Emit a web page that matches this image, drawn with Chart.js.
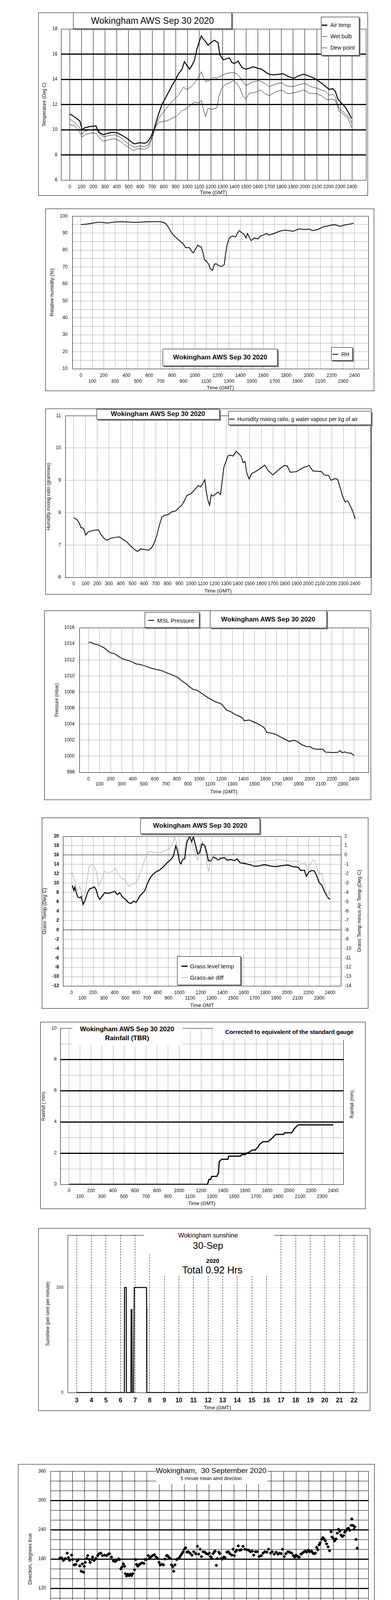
<!DOCTYPE html>
<html>
<head>
<meta charset="utf-8">
<title>Wokingham AWS Sep 30 2020</title>
<script src="https://cdn.jsdelivr.net/npm/chart.js@4.4.1/dist/chart.umd.min.js"></script>
<style>
  body { margin: 0; width: 1000px; height: 5000px; position: relative; background: #fff;
         font-family: "Liberation Sans", Arial, Helvetica, sans-serif; color: #000; }
  .frame { position: absolute; outline: 1px solid #000; outline-offset: -1px; }
  .frame canvas { display: block; }
  .box { position: absolute; background: #fff; border: 1px solid #000; box-sizing: border-box; overflow: hidden; z-index: 2; }
  .shadow { box-shadow: 3px 3px 0 #808080; }
  .mask { position: absolute; background: #fff; z-index: 2; }
  .txt { position: absolute; white-space: pre; transform: translate(-50%, -50%); z-index: 3; line-height: 1; }
  .ltxt { position: absolute; white-space: pre; transform: translateY(-50%); z-index: 3; line-height: 1; }
  .vtxt { position: absolute; white-space: pre; transform: translate(-50%, -50%) rotate(-90deg); z-index: 3; line-height: 1; }
  .sw { position: absolute; z-index: 3; }
</style>
</head>
<body>
<script>
// ---- tick values ----
const hundredTicks = [0,100,200,300,400,500,600,700,800,900,1000,1100,1200,1300,1400,1500,1600,1700,1800,1900,2000,2100,2200,2300,2400];
const tempTicks = [6,8,10,12,14,16,18];
const rhTicks = [10,15,20,25,30,35,40,45,50,55,60,65,70,75,80,85,90,95,100];
const mrTicks = [6,7,8,9,10,11];
const presTicks = [998,1000,1002,1004,1006,1008,1010,1012,1014,1016];
const grassTicks = [-12,-10,-8,-6,-4,-2,0,2,4,6,8,10,12,14,16,18,20];
const diffTicks = [-14,-13,-12,-11,-10,-9,-8,-7,-6,-5,-4,-3,-2,-1,0,1,2];
const rainTicks = [0,1,2,3,4,5,6,7,8,9,10];
const sunHours = [3,4,5,6,7,8,9,10,11,12,13,14,15,16,17,18,19,20,21,22];
const sunTicks = [0,50,100,150];
const dirHours = [0,1,2,3,4,5,6,7,8,9,10,11,12,13,14,15,16,17,18,19,20,21,22,23,24];
const dirTicks = [0,10,20,30,40,50,60,70,80,90,100,110,120,130,140,150,160,170,180,190,200,210,220,230,240,250,260,270,280,290,300,310,320,330,340,350,360];
const speedHours = [0,1,2,3,4,5,6,7,8,9,10,11,12,13,14,15,16,17,18,19,20,21,22,23,24,25];
const speedHourLabels = ['00:00','01:00','02:00','03:00','04:00','05:00','06:00','07:00','08:00','09:00','10:00','11:00','12:00','13:00','14:00','15:00','16:00','17:00','18:00','19:00','20:00','21:00','22:00','23:00'];
const speedTicks = [0,5,10,15,20,25,30,35,40,45,50];

// ---- series: [time (hhmm GMT), value] ----
const airTemp = [[0,11.25],[42,11.0],[85,10.7],[106,10.0],[127,10.15],[170,10.25],[223,10.3],[233,10.05],[254,9.75],[286,9.6],[318,9.7],[360,9.8],[403,9.75],[445,9.55],[488,9.3],[530,8.97],[551,8.87],[594,8.97],[636,8.92],[657,9.0],[689,9.4],[720,10.15],[753,11.2],[784,12.0],[827,12.75],[869,13.5],[901,14.0],[922,14.4],[954,14.8],[975,15.4],[996,15.1],[1018,14.8],[1039,15.1],[1060,15.5],[1081,16.4],[1102,17.0],[1119,17.45],[1134,17.2],[1155,17.0],[1176,16.7],[1198,16.9],[1230,17.1],[1261,16.9],[1276,15.95],[1304,15.55],[1325,15.6],[1357,15.7],[1378,15.35],[1399,15.25],[1431,15.45],[1463,14.95],[1495,14.8],[1526,14.87],[1558,15.0],[1590,14.9],[1632,14.8],[1675,14.5],[1707,14.37],[1738,14.35],[1781,14.4],[1813,14.45],[1844,14.3],[1876,14.15],[1908,14.1],[1950,14.3],[1992,14.4],[2035,14.25],[2078,14.1],[2109,13.9],[2141,13.7],[2173,13.45],[2205,13.2],[2237,13.25],[2258,13.05],[2279,12.45],[2311,12.1],[2343,11.8],[2374,11.3],[2396,10.9]];
const wetBulb = [[0,10.85],[42,10.57],[85,10.15],[106,9.65],[127,9.9],[191,10.0],[223,10.05],[254,9.65],[286,9.43],[339,9.55],[382,9.6],[424,9.43],[466,9.1],[509,8.8],[551,8.6],[594,8.7],[636,8.66],[668,8.8],[700,9.43],[731,10.26],[763,11.0],[806,11.5],[848,12.0],[890,12.43],[933,12.85],[965,13.37],[996,13.2],[1028,13.37],[1060,13.7],[1092,14.1],[1119,14.6],[1134,14.2],[1155,13.83],[1187,13.9],[1219,14.15],[1251,14.1],[1283,14.25],[1325,14.45],[1378,14.55],[1420,14.45],[1452,14.1],[1484,13.62],[1505,13.52],[1548,13.78],[1611,13.9],[1654,13.7],[1696,13.42],[1749,13.62],[1802,13.73],[1844,13.47],[1897,13.42],[1950,13.57],[2003,13.67],[2046,13.42],[2099,13.3],[2141,13.15],[2173,13.05],[2205,12.75],[2237,12.8],[2258,12.6],[2290,11.7],[2322,11.45],[2353,11.2],[2385,10.8],[2400,10.5]];
const dewPoint = [[0,10.4],[42,10.3],[74,9.95],[106,9.43],[138,9.64],[191,9.75],[223,9.7],[254,9.33],[286,9.07],[339,9.23],[382,9.28],[424,9.12],[466,8.8],[509,8.55],[541,8.35],[583,8.5],[636,8.45],[668,8.6],[700,9.33],[731,10.26],[763,10.6],[827,10.7],[869,10.9],[912,11.1],[954,11.5],[986,11.65],[1018,11.9],[1060,12.18],[1102,12.12],[1119,12.33],[1134,11.7],[1155,11.05],[1176,11.7],[1208,11.6],[1251,11.75],[1268,12.65],[1293,13.3],[1325,13.6],[1357,13.7],[1389,13.9],[1420,13.7],[1446,13.3],[1473,12.65],[1495,12.43],[1526,12.9],[1569,12.95],[1622,13.15],[1654,12.9],[1696,12.7],[1749,13.0],[1802,13.15],[1855,12.85],[1908,12.93],[1992,13.15],[2035,12.9],[2099,12.85],[2141,12.7],[2184,12.38],[2226,12.43],[2258,12.33],[2290,11.5],[2332,11.2],[2364,10.93],[2396,10.2]];
const relHumidity = [[0,95.0],[55,95.3],[98,95.8],[142,96.3],[186,96.3],[230,95.9],[295,96.5],[361,96.7],[427,96.5],[492,96.3],[558,96.6],[624,96.7],[689,96.7],[722,96.3],[744,95.6],[766,93.6],[799,89.8],[831,87.5],[864,85.6],[897,83.7],[919,81.4],[952,81.4],[974,79.1],[985,78.3],[1006,80.6],[1024,82.9],[1039,82.2],[1055,81.8],[1072,78.3],[1083,74.5],[1105,73.0],[1122,71.5],[1133,69.2],[1155,68.0],[1171,71.8],[1192,71.8],[1210,70.7],[1236,70.3],[1258,71.5],[1269,77.6],[1284,83.7],[1302,87.1],[1328,88.3],[1357,87.7],[1372,89.8],[1389,91.4],[1411,90.2],[1433,89.1],[1448,87.1],[1462,89.8],[1477,87.5],[1494,85.6],[1521,87.1],[1553,86.5],[1575,88.3],[1608,89.1],[1630,89.8],[1648,88.8],[1696,89.8],[1739,91.0],[1783,91.7],[1827,91.4],[1860,91.0],[1915,92.5],[1958,92.1],[2002,92.3],[2035,91.4],[2079,92.1],[2122,93.6],[2177,94.4],[2221,95.0],[2254,94.4],[2276,94.0],[2319,94.8],[2363,95.3],[2391,95.8]];
const mixRatio = [[0,7.84],[28,7.78],[49,7.66],[60,7.54],[81,7.52],[102,7.31],[123,7.41],[145,7.43],[177,7.46],[209,7.47],[230,7.33],[262,7.19],[283,7.15],[315,7.21],[358,7.24],[389,7.25],[421,7.17],[453,7.09],[485,6.97],[517,6.86],[543,6.80],[570,6.88],[602,6.86],[638,6.84],[666,6.93],[687,7.07],[709,7.31],[730,7.62],[751,7.86],[772,7.92],[804,7.94],[836,8.03],[868,8.05],[900,8.17],[921,8.23],[943,8.37],[964,8.53],[996,8.58],[1028,8.70],[1060,8.84],[1081,8.80],[1096,8.88],[1117,9.02],[1130,8.64],[1145,8.37],[1158,8.23],[1172,8.56],[1187,8.51],[1209,8.58],[1230,8.64],[1251,8.56],[1262,8.88],[1279,9.39],[1294,9.55],[1315,9.76],[1336,9.78],[1358,9.75],[1385,9.90],[1407,9.82],[1428,9.74],[1443,9.55],[1460,9.59],[1475,9.23],[1496,9.04],[1517,9.21],[1549,9.27],[1592,9.37],[1628,9.47],[1656,9.31],[1698,9.17],[1741,9.31],[1794,9.46],[1819,9.45],[1847,9.25],[1900,9.27],[1954,9.39],[2007,9.46],[2039,9.29],[2081,9.28],[2113,9.27],[2134,9.17],[2173,9.15],[2194,9.0],[2230,9.06],[2251,9.02],[2273,8.76],[2294,8.49],[2315,8.33],[2336,8.37],[2358,8.21],[2379,8.05],[2400,7.80]];
const mslPressure = [[0,1014.17],[23,1014.17],[45,1014.0],[79,1013.9],[113,1013.7],[146,1013.45],[169,1013.17],[196,1012.88],[237,1012.76],[270,1012.44],[304,1012.15],[338,1011.99],[372,1011.87],[406,1011.66],[428,1011.5],[462,1011.44],[496,1011.3],[530,1011.14],[563,1010.98],[608,1010.82],[654,1010.69],[687,1010.5],[732,1010.25],[777,1010.0],[811,1009.77],[845,1009.36],[879,1009.07],[913,1008.63],[946,1008.31],[980,1008.23],[1014,1007.9],[1048,1007.58],[1082,1007.26],[1115,1007.02],[1149,1006.77],[1183,1006.61],[1206,1006.45],[1228,1006.05],[1251,1005.72],[1284,1005.56],[1318,1005.24],[1352,1005.03],[1386,1004.83],[1408,1004.43],[1453,1004.51],[1487,1004.3],[1521,1004.1],[1555,1003.86],[1589,1003.54],[1611,1002.97],[1645,1002.89],[1690,1002.73],[1724,1002.48],[1769,1002.16],[1814,1001.84],[1859,1002.0],[1893,1001.76],[1927,1001.43],[1972,1001.19],[2006,1001.19],[2028,1000.95],[2062,1000.87],[2118,1000.87],[2141,1000.51],[2175,1000.49],[2208,1000.46],[2254,1000.49],[2276,1000.7],[2292,1000.43],[2314,1000.54],[2344,1000.41],[2373,1000.38],[2400,1000.09]];
const grassTemp = [[7,9.5],[21,8.4],[30,9.15],[42,8.1],[58,7.0],[76,6.85],[88,7.1],[100,6.15],[107,5.45],[123,6.15],[134,7.0],[151,8.1],[169,8.8],[192,8.95],[211,9.2],[227,8.65],[246,7.1],[262,6.5],[285,7.25],[308,7.95],[336,7.8],[366,7.95],[401,8.25],[424,7.55],[447,7.95],[475,7.0],[505,6.4],[528,5.85],[551,5.6],[575,6.15],[598,5.85],[614,6.4],[633,7.25],[656,7.8],[679,8.35],[702,9.75],[725,10.9],[748,11.7],[783,12.4],[818,12.8],[853,13.5],[887,14.35],[922,15.05],[945,15.75],[968,17.95],[985,16.7],[1003,14.5],[1015,14.1],[1031,15.05],[1050,15.2],[1061,17.25],[1073,18.95],[1087,19.5],[1100,19.9],[1114,18.8],[1131,19.9],[1154,17.8],[1170,16.3],[1189,16.45],[1212,18.4],[1235,18.1],[1253,16.7],[1270,14.75],[1293,14.75],[1316,15.6],[1339,15.3],[1362,14.9],[1385,15.3],[1420,15.45],[1443,14.9],[1478,15.05],[1513,14.8],[1536,15.2],[1564,14.35],[1606,14.2],[1652,13.95],[1698,13.6],[1745,13.7],[1791,13.95],[1837,13.7],[1895,13.5],[1941,13.7],[2011,13.85],[2057,13.5],[2104,13.4],[2127,12.7],[2162,12.75],[2180,11.45],[2203,12.4],[2231,12.7],[2254,12.6],[2277,11.45],[2300,10.05],[2323,9.6],[2347,8.25],[2370,7.25],[2388,6.7],[2400,6.55]];
const grassAirDiff = [[2,-1.8],[19,-2.42],[35,-2.98],[53,-3.82],[76,-3.33],[100,-4.5],[123,-4.1],[146,-2.42],[164,-1.17],[188,-1.03],[211,-1.24],[234,-1.87],[250,-3.33],[273,-2.77],[304,-1.73],[343,-2.0],[378,-1.73],[405,-1.45],[435,-2.0],[465,-2.56],[494,-2.56],[528,-3.33],[563,-3.12],[598,-2.98],[621,-2.42],[656,-1.31],[679,-0.48],[714,0.36],[748,0.36],[783,0.22],[830,0.29],[876,0.5],[910,0.7],[938,1.2],[957,1.95],[980,1.05],[1008,-0.06],[1031,-0.48],[1054,0.9],[1073,1.95],[1096,1.95],[1119,1.2],[1142,0.36],[1170,-0.6],[1193,1.05],[1216,1.47],[1239,0.63],[1258,-0.9],[1270,-1.73],[1288,-0.82],[1309,-0.27],[1332,0.01],[1362,-0.55],[1385,-0.06],[1416,0.15],[1443,-0.2],[1478,0.01],[1513,0.22],[1541,-0.34],[1564,-0.6],[1606,-0.82],[1652,-0.75],[1698,-0.69],[1768,-0.59],[1814,-0.62],[1872,-0.55],[1930,-0.48],[2000,-0.59],[2046,-0.69],[2081,-0.62],[2115,-0.75],[2139,-0.96],[2169,-0.75],[2192,-1.59],[2215,-1.03],[2238,-0.55],[2254,-0.55],[2277,-1.31],[2300,-2.15],[2323,-1.94],[2342,-2.98],[2358,-3.54],[2374,-4.5],[2393,-3.82],[2400,-4.37]];
const rainfall = [[0,0],[1259,0],[1270,0.31],[1286,0.31],[1297,0.51],[1343,0.51],[1358,0.73],[1365,1.47],[1376,1.53],[1388,1.61],[1444,1.61],[1451,1.81],[1558,1.81],[1569,1.91],[1603,1.91],[1614,2.0],[1644,2.09],[1666,2.2],[1693,2.2],[1705,2.32],[1716,2.36],[1727,2.52],[1743,2.62],[1761,2.73],[1811,2.73],[1822,2.83],[1840,2.92],[1858,3.05],[1879,3.2],[1949,3.2],[1958,3.3],[2022,3.3],[2033,3.4],[2044,3.54],[2060,3.66],[2072,3.75],[2085,3.81],[2400,3.81]];
// [hour, per cent]
const sunshine = [[3,0],[6.26,0],[6.27,100],[6.39,100],[6.40,0],[6.71,0],[6.73,79],[6.78,79],[6.80,0],[6.89,0],[6.94,100],[7.78,100],[7.79,80],[7.80,0],[22,0]];
// [hour, degrees]
const windDir = [[0,182],[0.14,182],[0.28,177],[0.42,181],[0.58,192],[0.68,183],[0.78,177],[0.94,188],[1.02,179],[1.14,168],[1.28,169],[1.38,176],[1.49,179],[1.59,166],[1.71,155],[1.79,170],[1.89,153],[1.95,165],[2.03,173],[2.15,181],[2.23,187],[2.35,179],[2.43,173],[2.55,179],[2.63,184],[2.75,177],[2.89,181],[3.03,187],[3.15,191],[3.29,192],[3.43,187],[3.59,188],[3.75,187],[3.89,190],[3.99,191],[4.15,184],[4.29,176],[4.43,175],[4.56,177],[4.7,180],[4.8,179],[4.9,160],[5.0,164],[5.1,170],[5.2,165],[5.26,150],[5.36,145],[5.46,149],[5.56,146],[5.66,149],[5.76,146],[5.86,150],[6.0,158],[6.1,179],[6.16,169],[6.26,165],[6.36,168],[6.46,170],[6.6,172],[6.76,171],[6.84,179],[6.96,179],[7.1,187],[7.2,181],[7.3,184],[7.45,187],[7.6,189],[7.73,184],[7.85,181],[7.97,173],[8.07,168],[8.21,169],[8.33,168],[8.45,180],[8.57,187],[8.65,187],[8.77,183],[8.87,181],[8.97,168],[9.07,164],[9.15,155],[9.25,168],[9.37,179],[9.47,180],[9.61,183],[9.71,187],[9.81,191],[9.91,195],[10.01,200],[10.11,203],[10.21,194],[10.32,195],[10.46,192],[10.62,188],[10.76,195],[10.92,191],[11.06,206],[11.16,190],[11.28,200],[11.38,185],[11.52,195],[11.66,194],[11.78,191],[11.92,190],[12.02,192],[12.12,185],[12.22,181],[12.32,191],[12.42,195],[12.48,196],[12.58,167],[12.66,181],[12.78,194],[12.86,191],[12.96,181],[13.08,180],[13.18,184],[13.28,183],[13.43,194],[13.55,195],[13.67,191],[13.83,188],[13.93,200],[14.03,187],[14.13,195],[14.23,198],[14.35,207],[14.47,198],[14.59,199],[14.73,206],[14.87,200],[15.03,199],[15.19,198],[15.33,195],[15.47,196],[15.59,188],[15.73,195],[15.87,195],[16.03,185],[16.2,187],[16.34,192],[16.48,195],[16.64,194],[16.78,200],[16.94,192],[17.08,195],[17.24,190],[17.4,194],[17.54,190],[17.68,192],[17.8,191],[17.9,200],[18.04,185],[18.18,191],[18.34,195],[18.48,194],[18.64,192],[18.78,187],[18.88,184],[19.0,188],[19.14,185],[19.25,184],[19.39,190],[19.49,192],[19.61,194],[19.73,196],[19.85,194],[19.99,198],[20.11,195],[20.25,196],[20.35,192],[20.45,191],[20.55,192],[20.65,204],[20.75,199],[20.85,209],[20.93,213],[21.05,220],[21.15,224],[21.25,221],[21.35,217],[21.45,211],[21.57,205],[21.69,197],[21.81,236],[21.89,225],[22.01,222],[22.09,217],[22.21,221],[22.31,233],[22.41,241],[22.51,237],[22.61,229],[22.71,226],[22.82,228],[22.91,235],[23.02,238],[23.12,242],[23.22,243],[23.32,239],[23.42,249],[23.48,262],[23.56,249],[23.66,241],[23.72,246],[23.82,220],[23.92,202]];
// [hour, knots]
const meanSpeed = [[0,3.3],[0.29,3.0],[0.59,2.8],[0.88,3.3],[1.17,3.2],[1.47,3.6],[1.76,4.1],[2.05,3.3],[2.35,3.1],[2.64,3.6],[2.93,4.1],[3.22,4.25],[3.52,4.4],[3.81,4.8],[4.1,4.25],[4.4,4.1],[4.69,4.0],[4.98,3.6],[5.28,4.1],[5.67,3.3],[5.96,3.6],[6.25,4.1],[6.64,4.0],[7.04,4.1],[7.33,4.25],[7.62,5.5],[7.91,4.7],[8.21,4.1],[8.5,4.6],[8.79,5.2],[9.09,5.5],[9.38,5.0],[9.67,6.3],[9.87,7.6],[10.06,7.1],[10.26,5.75],[10.46,7.1],[10.65,7.6],[10.85,9.25],[11.04,10.5],[11.33,10.9],[11.53,8.7],[11.82,7.9],[12.02,9.8],[12.21,8.7],[12.35,6.8],[12.51,9.25],[12.7,10.6],[12.9,9.0],[13.19,9.25],[13.48,9.0],[13.78,10.1],[14.03,8.45],[14.3,10.1],[14.56,11.7],[14.85,9.8],[15.15,10.1],[15.44,7.6],[15.63,9.5],[15.93,9.8],[16.12,8.2],[16.38,13.3],[16.61,11.7],[16.81,10.3],[17.0,9.0],[17.3,9.8],[17.59,9.0],[17.88,7.6],[18.17,6.8],[18.37,8.2],[18.66,7.1],[18.96,6.6],[19.25,6.8],[19.54,7.1],[19.84,8.45],[20.09,9.5],[20.32,10.7],[20.62,10.5],[20.87,9.0],[21.11,6.6],[21.4,4.8],[21.69,4.7],[21.93,3.6],[22.12,5.0],[22.38,5.2],[22.67,6.3],[22.96,6.0],[23.16,5.0],[23.35,3.6],[23.55,2.5],[23.8,2.3],[23.94,2.3]];
const gustSpeed = [[0,4.5],[0.15,3.2],[0.3,4.8],[0.45,3.5],[0.6,5.0],[0.75,3.4],[0.9,4.6],[1.05,3.5],[1.2,5.5],[1.35,3.8],[1.5,5.0],[1.65,3.6],[1.8,5.5],[1.9,3.5],[2.0,4.8],[2.15,3.2],[2.3,4.5],[2.45,5.6],[2.6,6.5],[2.75,4.4],[2.9,5.8],[3.05,4.6],[3.2,7.0],[3.35,4.8],[3.5,6.5],[3.65,5.0],[3.8,8.0],[3.95,4.8],[4.1,6.8],[4.25,4.6],[4.4,6.5],[4.55,4.2],[4.7,5.5],[4.85,4.0],[5.0,6.0],[5.15,3.8],[5.3,5.2],[5.45,3.6],[5.6,5.5],[5.75,3.8],[5.9,5.0],[6.05,4.2],[6.2,6.5],[6.35,4.5],[6.5,6.0],[6.65,4.6],[6.8,7.0],[6.9,4.8],[7.0,6.2],[7.15,4.8],[7.3,9.0],[7.4,5.5],[7.5,7.2],[7.65,5.0],[7.8,8.0],[7.9,4.8],[8.0,6.5],[8.15,5.0],[8.3,9.0],[8.4,5.8],[8.5,7.5],[8.65,5.8],[8.8,9.5],[8.9,6.2],[9.0,8.0],[9.15,6.5],[9.3,9.5],[9.4,7.0],[9.5,9.8],[9.6,7.5],[9.7,12.0],[9.8,8.0],[9.9,11.5],[10.0,8.5],[10.1,12.5],[10.2,7.5],[10.3,10.0],[10.45,9.0],[10.6,16.0],[10.7,10.5],[10.8,15.0],[10.9,11.0],[11.0,18.5],[11.1,12.0],[11.2,16.5],[11.35,11.0],[11.5,17.5],[11.6,11.5],[11.7,14.5],[11.8,9.5],[11.9,15.0],[12.0,9.5],[12.1,13.5],[12.2,8.5],[12.3,14.0],[12.4,7.5],[12.5,12.0],[12.6,9.0],[12.7,21.5],[12.8,11.0],[12.9,16.0],[13.0,10.5],[13.1,16.0],[13.2,10.0],[13.3,15.0],[13.4,10.0],[13.5,14.5],[13.6,9.5],[13.7,15.5],[13.8,10.5],[13.9,20.5],[14.0,10.0],[14.1,15.0],[14.2,10.5],[14.3,18.0],[14.4,11.0],[14.5,16.0],[14.6,22.0],[14.7,11.0],[14.8,17.0],[14.9,10.0],[15.0,16.5],[15.1,9.0],[15.2,13.0],[15.3,8.5],[15.4,13.5],[15.5,9.5],[15.6,12.5],[15.7,9.0],[15.8,14.5],[15.9,9.5],[16.0,13.0],[16.1,10.0],[16.2,18.0],[16.3,12.0],[16.4,24.0],[16.5,13.0],[16.6,19.0],[16.7,12.5],[16.8,20.0],[16.9,11.0],[17.0,16.5],[17.1,10.0],[17.2,17.0],[17.3,10.0],[17.4,14.5],[17.5,9.5],[17.6,15.0],[17.7,9.0],[17.8,12.5],[17.9,8.0],[18.0,13.0],[18.1,7.5],[18.2,11.5],[18.3,8.0],[18.4,15.5],[18.5,8.5],[18.6,12.0],[18.7,7.5],[18.8,13.0],[18.9,7.5],[19.0,11.5],[19.1,7.5],[19.2,12.0],[19.3,8.0],[19.4,12.5],[19.5,8.5],[19.6,13.5],[19.7,9.0],[19.8,14.0],[19.9,10.0],[20.0,16.5],[20.1,11.0],[20.2,16.0],[20.3,11.5],[20.4,17.0],[20.5,11.0],[20.6,14.0],[20.7,10.0],[20.8,12.0],[20.9,7.0],[21.0,9.5],[21.1,6.0],[21.2,9.0],[21.3,5.5],[21.4,7.5],[21.5,5.0],[21.6,7.0],[21.7,4.5],[21.8,6.0],[21.9,4.0],[22.0,8.0],[22.1,5.5],[22.2,7.5],[22.3,6.0],[22.4,10.5],[22.5,6.5],[22.6,9.5],[22.7,6.5],[22.8,9.0],[22.9,6.0],[23.0,7.5],[23.1,5.0],[23.2,7.5],[23.3,4.5],[23.4,5.0],[23.5,3.0],[23.6,3.5],[23.7,2.0],[23.8,3.5],[23.95,1.5]];
const lowSpeedX10 = [[0,32.7],[0.1,35.9],[0.2,34.8],[0.25,33.2],[0.33,30.2],[0.39,28.6],[0.49,31.6],[0.55,35.4],[0.63,33.7],[0.68,32.1],[0.74,29.7],[0.78,26.7],[0.84,33.2],[0.94,36.4],[1.02,34.8],[1.09,33.2],[1.17,37.2],[1.23,38.6],[1.31,34.8],[1.37,32.7],[1.45,31.3],[1.52,35.9],[1.6,37.0],[1.68,38.6],[1.76,34.8],[1.86,31.9],[1.92,33.7],[2.0,37.0],[2.05,39.9],[2.15,32.4],[2.25,30.2],[2.35,28.1],[2.4,31.3],[2.5,34.8],[2.6,36.4],[2.7,34.3],[2.74,32.7],[2.83,37.8],[2.89,39.7],[3.17,40.2],[3.22,39.4],[3.48,38.0],[3.52,40.2],[4.06,39.9],[4.14,38.0],[4.26,36.2],[4.4,37.5],[4.49,38.6],[4.63,39.9],[4.73,39.1],[4.85,37.0],[4.92,34.0],[4.98,32.1],[5.08,34.8],[5.18,36.4],[5.24,38.6],[5.37,39.7],[5.47,39.9],[5.53,38.3],[5.61,36.4],[5.67,32.7],[5.73,30.0],[5.8,31.6],[5.9,34.0],[6.0,35.9],[6.06,38.0],[6.12,39.9],[6.21,37.0],[6.29,32.7],[6.37,34.8],[6.45,37.0],[6.64,39.9],[6.74,38.6],[6.84,37.5],[6.94,39.9],[7.04,39.1],[7.13,39.7],[7.37,39.4],[8.01,39.8],[8.5,39.2],[8.56,37.5],[8.52,35.9],[21.85,38.7],[21.89,35.9],[21.99,37.5],[21.99,34.8],[21.95,33.2],[22.05,36.4],[23.35,39.4],[23.41,36.2],[23.45,33.7],[23.51,32.1],[23.55,30.5],[23.59,29.2],[23.61,27.8],[23.65,25.9],[23.65,24.9],[23.71,22.4],[23.74,19.8],[23.8,21.4],[23.84,23.0],[23.9,24.1],[23.94,20.6],[23.74,20.9]];

// ---- helpers ----
Chart.defaults.font.family = '"Liberation Sans", Arial, Helvetica, sans-serif';
Chart.defaults.font.size = 12;
Chart.defaults.color = '#000';

const pts = a => a.map(p => ({ x: p[0], y: p[1] }));
const str = v => String(v);
const twoRow = v => (v % 200 === 0 ? String(v) : ['', String(v)]);
const tickValues = list => s => { s.ticks = list.map(v => ({ value: v })); };
const tv = c => (c.tick ? c.tick.value : null);
const ttl = (text, size, top, bottom) => ({ display: true, text: text, font: { size: size }, padding: { top: top, bottom: bottom } });

function lineSet(data, width, color, axis) {
  return { data: pts(data), borderColor: color || '#000', borderWidth: width, pointRadius: 0,
           tension: 0, fill: false, yAxisID: axis || 'y' };
}

const framePlugin = {
  id: 'frame',
  afterDraw(chart) {
    const a = chart.chartArea, ctx = chart.ctx;
    ctx.save();
    ctx.setLineDash([]);
    ctx.strokeStyle = '#000';
    ctx.lineWidth = 1;
    ctx.strokeRect(Math.round(a.left) + 0.5, Math.round(a.top) + 0.5, Math.round(a.right - a.left), Math.round(a.bottom - a.top));
    ctx.restore();
  }
};

function makeChart(box, plot, datasets, scales) {
  const w = box[2] - box[0], h = box[3] - box[1];
  const div = document.createElement('div');
  div.className = 'frame';
  Object.assign(div.style, { left: box[0] + 'px', top: box[1] + 'px', width: w + 'px', height: h + 'px' });
  const cv = document.createElement('canvas');
  cv.width = w; cv.height = h;
  div.appendChild(cv);
  document.body.appendChild(div);
  scales.x.afterFit = s => { s.height = box[3] - plot[3]; };
  scales.y.afterFit = s => { s.width = plot[0] - box[0]; };
  if (scales.y2) scales.y2.afterFit = s => { s.width = box[2] - plot[2]; };
  return new Chart(cv, {
    type: 'line',
    data: { datasets: datasets },
    options: {
      responsive: false, animation: false, devicePixelRatio: 1, events: [],
      layout: { padding: { left: 0, top: plot[1] - box[1], right: scales.y2 ? 0 : box[2] - plot[2], bottom: 0 } },
      plugins: { legend: { display: false }, tooltip: { enabled: false } },
      scales: scales
    },
    plugins: [framePlugin]
  });
}

function el(cls, parent, css) {
  const d = document.createElement('div');
  d.className = cls;
  Object.assign(d.style, css || {});
  (parent || document.body).appendChild(d);
  return d;
}
function box(l, t, w, h, shadow) {
  return el('box' + (shadow ? ' shadow' : ''), null, { left: l + 'px', top: t + 'px', width: w + 'px', height: h + 'px' });
}
function mask(l, t, w, h) {
  return el('mask', null, { left: l + 'px', top: t + 'px', width: w + 'px', height: h + 'px' });
}
function text(parent, s, x, y, font, mode) {
  const d = el(mode === 'l' ? 'ltxt' : (mode === 'v' ? 'vtxt' : 'txt'), parent, { left: x + 'px', top: y + 'px', font: font });
  d.textContent = s;
  return d;
}
function swatch(parent, x, y, w, thick, color) {
  return el('sw', parent, { left: x + 'px', top: (y - thick / 2) + 'px', width: w + 'px', height: thick + 'px', background: color || '#000' });
}
const F = '"Liberation Sans", Arial, sans-serif';
const dotted = { color: '#000', dash: [1, 2] };

// ---- 1. Temperatures ----
makeChart([98, 32, 941, 501], [156, 74, 936, 461], [
  lineSet(dewPoint, 1), lineSet(wetBulb, 1), lineSet(airTemp, 2.5)
], {
  x: { type: 'linear', min: -75, max: 2519, afterBuildTicks: tickValues(hundredTicks),
       grid: { color: '#000', lineWidth: 1, drawTicks: false }, border: { color: '#000' },
       ticks: { autoSkip: false, maxRotation: 0, padding: 10, font: { size: 12 }, callback: str },
       title: ttl('Time (GMT)', 13, 0, 0) },
  y: { type: 'linear', min: 6, max: 18, afterBuildTicks: tickValues(tempTicks),
       grid: { color: '#000', lineWidth: c => (tv(c) > 6 && tv(c) < 18 ? 3 : 1), drawTicks: false }, border: { color: '#000' },
       ticks: { padding: 9, font: { size: 12 }, callback: str },
       title: ttl('Temperature (Deg C)', 12, 8, 0) }
});
(function () {
  const t = box(187, 32, 406, 42, true);
  text(t, 'Wokingham AWS Sep 30 2020', 202, 20, '23px ' + F);
  const l = box(821, 43, 98, 99, true);
  swatch(l, 1, 20, 14, 3); text(l, 'Air temp', 23, 20, '14px ' + F, 'l');
  swatch(l, 1, 49, 14, 1); text(l, 'Wet bulb', 23, 49, '14px ' + F, 'l');
  swatch(l, 1, 78, 14, 1); text(l, 'Dew point', 23, 78, '14px ' + F, 'l');
})();

// ---- 2. Relative humidity ----
makeChart([116, 534, 957, 1001], [185, 552, 942, 944], [lineSet(relHumidity, 2)], {
  x: { type: 'linear', min: -75, max: 2521, afterBuildTicks: tickValues(hundredTicks),
       grid: { color: '#000', drawTicks: false }, border: dotted,
       ticks: { autoSkip: false, maxRotation: 0, padding: 10, font: { size: 12, lineHeight: 1.25 }, callback: twoRow },
       title: ttl('Time (GMT)', 13, 0, 0) },
  y: { type: 'linear', min: 10, max: 100, afterBuildTicks: tickValues(rhTicks),
       grid: { color: '#000', drawTicks: false }, border: dotted,
       ticks: { padding: 12, font: { size: 12 }, callback: v => (v % 10 === 0 ? String(v) : '') },
       title: ttl('Relative humidity (%)', 13, 10, 0) }
});
(function () {
  const t = box(416, 893, 294, 44, true);
  text(t, 'Wokingham AWS Sep 30 2020', 146, 21, 'bold 17px ' + F);
  const l = box(847, 889, 55, 34, true);
  swatch(l, 2, 17, 15, 2.5); text(l, 'RH', 25, 17, '14px ' + F, 'l');
})();

// ---- 3. Mixing ratio ----
makeChart([116, 1046, 950, 1522], [167, 1053, 948, 1478], [lineSet(mixRatio, 2)], {
  x: { type: 'linear', min: -73, max: 2532, afterBuildTicks: tickValues(hundredTicks),
       grid: { color: '#000', drawTicks: false }, border: dotted,
       ticks: { autoSkip: false, maxRotation: 0, padding: 9, font: { size: 12 }, callback: str },
       title: ttl('Time (GMT)', 13, 0, 1) },
  y: { type: 'linear', min: 6, max: 11, afterBuildTicks: tickValues(mrTicks),
       grid: { color: '#000', drawTicks: false }, border: dotted,
       ticks: { padding: 11, font: { size: 12 }, callback: str },
       title: ttl('Humidity mixing ratio (grammes)', 12, 1, 0) }
});
(function () {
  const t = box(247, 1047, 315, 27, true);
  text(t, 'Wokingham AWS Sep 30 2020', 156, 12, 'bold 17px ' + F);
  const l = box(584, 1052, 366, 36, true);
  swatch(l, 1, 20, 14, 2.5);
  text(l, 'Humidity mixing ratio, g water vapour per kg of air', 22, 20, '14px ' + F, 'l');
})();

// ---- 4. MSL pressure ----
makeChart([113, 1563, 949, 2048], [203, 1607, 942, 1977], [lineSet(mslPressure, 2)], {
  x: { type: 'linear', min: -83, max: 2529, afterBuildTicks: tickValues(hundredTicks),
       grid: { color: '#000', drawTicks: false }, border: dotted,
       ticks: { autoSkip: false, maxRotation: 0, padding: 11, font: { size: 12, lineHeight: 1.1 }, callback: twoRow },
       title: ttl('Time (GMT)', 13, 0, 13) },
  y: { type: 'linear', min: 998, max: 1016, afterBuildTicks: tickValues(presTicks),
       grid: { color: '#000', drawTicks: false }, border: dotted,
       ticks: { padding: 12, font: { size: 12 }, callback: str },
       title: ttl('Pressure (mbar)', 12, 25, 0) }
});
(function () {
  const l = box(370, 1567, 140, 40, true);
  swatch(l, 8, 20, 15, 2.5); text(l, 'MSL Pressure', 31, 20, '15px ' + F, 'l');
  const t = box(537, 1563, 299, 45, true);
  text(t, 'Wokingham AWS Sep 30 2020', 148, 22, 'bold 17px ' + F);
})();

// ---- 5. Grass temperature ----
makeChart([107, 2093, 942, 2582], [161, 2141, 872, 2524], [
  lineSet(grassAirDiff, 1, '#8c8c8c', 'y2'), lineSet(grassTemp, 2.5)
], {
  x: { type: 'linear', min: -80, max: 2501, afterBuildTicks: tickValues(hundredTicks),
       grid: { color: '#000', drawTicks: false }, border: dotted,
       ticks: { autoSkip: false, maxRotation: 0, padding: 11, font: { size: 12, lineHeight: 1.17 }, callback: twoRow },
       title: ttl('Time GMT', 13, 0, 0) },
  y: { type: 'linear', position: 'left', min: -12, max: 20, afterBuildTicks: tickValues(grassTicks),
       grid: { color: '#000', drawTicks: false },
       border: { color: '#000', dash: c => (tv(c) === 16 || tv(c) === 0 ? [] : [1, 2]) },
       ticks: { padding: 10, font: { size: 12, weight: 'bold' }, callback: str },
       title: ttl('Grass Temp (Deg C)', 13, 0, 0) },
  y2: { type: 'linear', position: 'right', min: -14, max: 2, afterBuildTicks: tickValues(diffTicks),
        grid: { drawOnChartArea: false, drawTicks: false }, border: { color: '#000' },
        ticks: { padding: 9, font: { size: 12 }, callback: str } }
});
(function () {
  const t = box(359, 2094, 306, 41, true);
  text(t, 'Wokingham AWS Sep 30 2020', 152, 19, 'bold 17px ' + F);
  const l = box(453, 2448, 163, 74, true);
  swatch(l, 10, 24, 16, 3); text(l, 'Grass level temp', 32, 24, '15px ' + F, 'l');
  swatch(l, 10, 53, 16, 1, '#8c8c8c'); text(l, 'Grass-air diff', 32, 53, '15px ' + F, 'l');
  text(null, 'Grass Temp minus Air Temp (Deg C)', 918, 2332, '13px ' + F, 'v');
})();

// ---- 6. Rainfall ----
makeChart([103, 2616, 935, 3095], [154, 2622, 878, 3032], [lineSet(rainfall, 3)], {
  x: { type: 'linear', min: -80, max: 2492, afterBuildTicks: tickValues(hundredTicks),
       grid: { color: '#000', drawTicks: false }, border: dotted,
       ticks: { autoSkip: false, maxRotation: 0, padding: 9, font: { size: 12, lineHeight: 1.25 }, callback: twoRow },
       title: ttl('Time (GMT)', 13, 0, 6) },
  y: { type: 'linear', min: 0, max: 10, afterBuildTicks: tickValues(rainTicks),
       grid: { color: '#000', lineWidth: c => (tv(c) % 2 === 0 && tv(c) > 0 && tv(c) < 10 ? 3 : 1), drawTicks: false },
       border: { color: '#000', dash: c => (tv(c) % 2 === 0 ? [] : [1, 2]) },
       ticks: { padding: 9, font: { size: 12 }, callback: v => (v % 2 === 0 ? String(v) : '') },
       title: ttl('Rainfall ( mm)', 12, 1, 0) }
});
(function () {
  const a = mask(185, 2618, 282, 59);
  text(a, 'Wokingham AWS Sep 30 2020', 140, 17, 'bold 17px ' + F);
  text(a, 'Rainfall (TBR)', 140, 40, 'bold 17px ' + F);
  const b = mask(545, 2618, 384, 44);
  text(b, 'Corrected to equivalent of the standard gauge', 195, 23, 'bold 15px ' + F);
  text(null, 'Rainfall (mm)', 900, 2827, '12px ' + F, 'v');
})();

// ---- 7. Sunshine ----
makeChart([98, 3144, 947, 3612], [173, 3155, 939, 3565], [lineSet(sunshine, 2.5)], {
  x: { type: 'linear', min: 2.376, max: 22.9, afterBuildTicks: tickValues(sunHours),
       grid: { color: '#000', drawTicks: false }, border: { color: '#000', dash: [4, 3] },
       ticks: { autoSkip: false, maxRotation: 0, padding: 11, font: { size: 16, weight: 'bold' }, callback: str },
       title: ttl('Time (GMT)', 13, 0, 0) },
  y: { type: 'linear', min: 0, max: 150, afterBuildTicks: tickValues(sunTicks),
       grid: { color: c => (tv(c) === 50 || tv(c) === 100 ? '#9a9a9a' : 'rgba(0,0,0,0)'), drawTicks: false },
       border: { color: '#000', dash: [1, 2] },
       ticks: { padding: 11, font: { size: 11 }, callback: v => (v === 0 || v === 100 ? String(v) : '') },
       title: ttl('Sunshine (per cent per minute)', 12, 17, 0) }
});
(function () {
  mask(368, 3146, 333, 65);
  mask(383, 3211, 300, 56);
  text(null, 'Wokingham sunshine', 532, 3163, '16px ' + F);
  text(null, '30-Sep', 532, 3189, '24px ' + F);
  text(null, '2020', 544, 3227, 'bold 15px ' + F);
  text(null, 'Total 0.92 Hrs', 543, 3251, '25px ' + F);
})();

// ---- 8. Wind direction ----
makeChart([46, 3748, 958, 4263], [129, 3766, 942, 4216], [{
  data: pts(windDir), showLine: false, pointStyle: 'rectRot', pointRadius: 4,
  backgroundColor: '#000', borderColor: '#000', borderWidth: 1, yAxisID: 'y'
}], {
  x: { type: 'linear', min: -0.767, max: 24.81, afterBuildTicks: tickValues(dirHours),
       grid: { color: '#000', drawTicks: false }, border: { color: '#000' },
       ticks: { autoSkip: false, maxRotation: 0, padding: 9, font: { size: 12 }, callback: str },
       title: ttl('Time (GMT)', 13, 0, 5) },
  y: { type: 'linear', min: 0, max: 360, afterBuildTicks: tickValues(dirTicks),
       grid: { color: '#000', lineWidth: c => (tv(c) % 30 === 0 && tv(c) > 0 && tv(c) < 360 ? 3 : 1), drawTicks: false },
       border: { color: '#000' },
       ticks: { padding: 11, font: { size: 12 }, callback: v => (v % 30 === 0 ? String(v) : '') },
       title: ttl('Direction, degrees true', 13, 24, 0) }
});
(function () {
  mask(400, 3750, 284, 50);
  text(null, 'Wokingham,  30 September 2020', 540, 3765, '19px ' + F);
  text(null, '5 minute mean wind direction', 540, 3785, '12px ' + F);
})();

// ---- 9. Wind speed ----
makeChart([46, 4281, 958, 4776], [104, 4325, 953, 4704], [
  lineSet(gustSpeed, 1, '#505050'),
  lineSet(meanSpeed, 2),
  { data: pts(lowSpeedX10), showLine: false, pointStyle: 'rectRot', pointRadius: 4.5,
    backgroundColor: '#c4c4c4', borderColor: '#333', borderWidth: 1, yAxisID: 'y' }
], {
  x: { type: 'linear', min: -0.72, max: 25.28, afterBuildTicks: tickValues(speedHours),
       grid: { color: '#000', drawTicks: false }, border: dotted,
       ticks: { autoSkip: false, maxRotation: 0, padding: 10, font: { size: 12, lineHeight: 1.2 },
                callback: v => (v > 23 ? '' : (v % 2 === 0 ? speedHourLabels[v] : ['', speedHourLabels[v]])) },
       title: ttl('Time (GMT)', 13, 0, 15) },
  y: { type: 'linear', min: 0, max: 50, afterBuildTicks: tickValues(speedTicks),
       grid: { color: '#000', drawTicks: false }, border: dotted,
       ticks: { padding: 11, font: { size: 12 }, callback: v => (v % 10 === 0 ? String(v) : '') },
       title: ttl('Speed (knots)', 12, 6, 0) }
});
(function () {
  text(null, 'Wokingham,  30 September 2020', 275, 4303, 'bold 16px ' + F);
  text(null, 'Wind speed, 10 min mean / max gust', 582, 4294, '13px ' + F);
  text(null, 'Speeds below 4 kt shown at x10 scale', 582, 4311, '12px ' + F);
  const l = box(733, 4287, 220, 25, true);
  swatch(l, 31, 12, 10, 2); text(l, 'Speed x 1', 50, 12, '10px ' + F, 'l');
  el('sw', l, { left: '121px', top: '8px', width: '7px', height: '7px', background: '#c4c4c4',
                border: '1px solid #333', transform: 'rotate(45deg)' });
  text(l, 'Speed / 10', 135, 12, '10px ' + F, 'l');
})();
</script>
</body>
</html>
